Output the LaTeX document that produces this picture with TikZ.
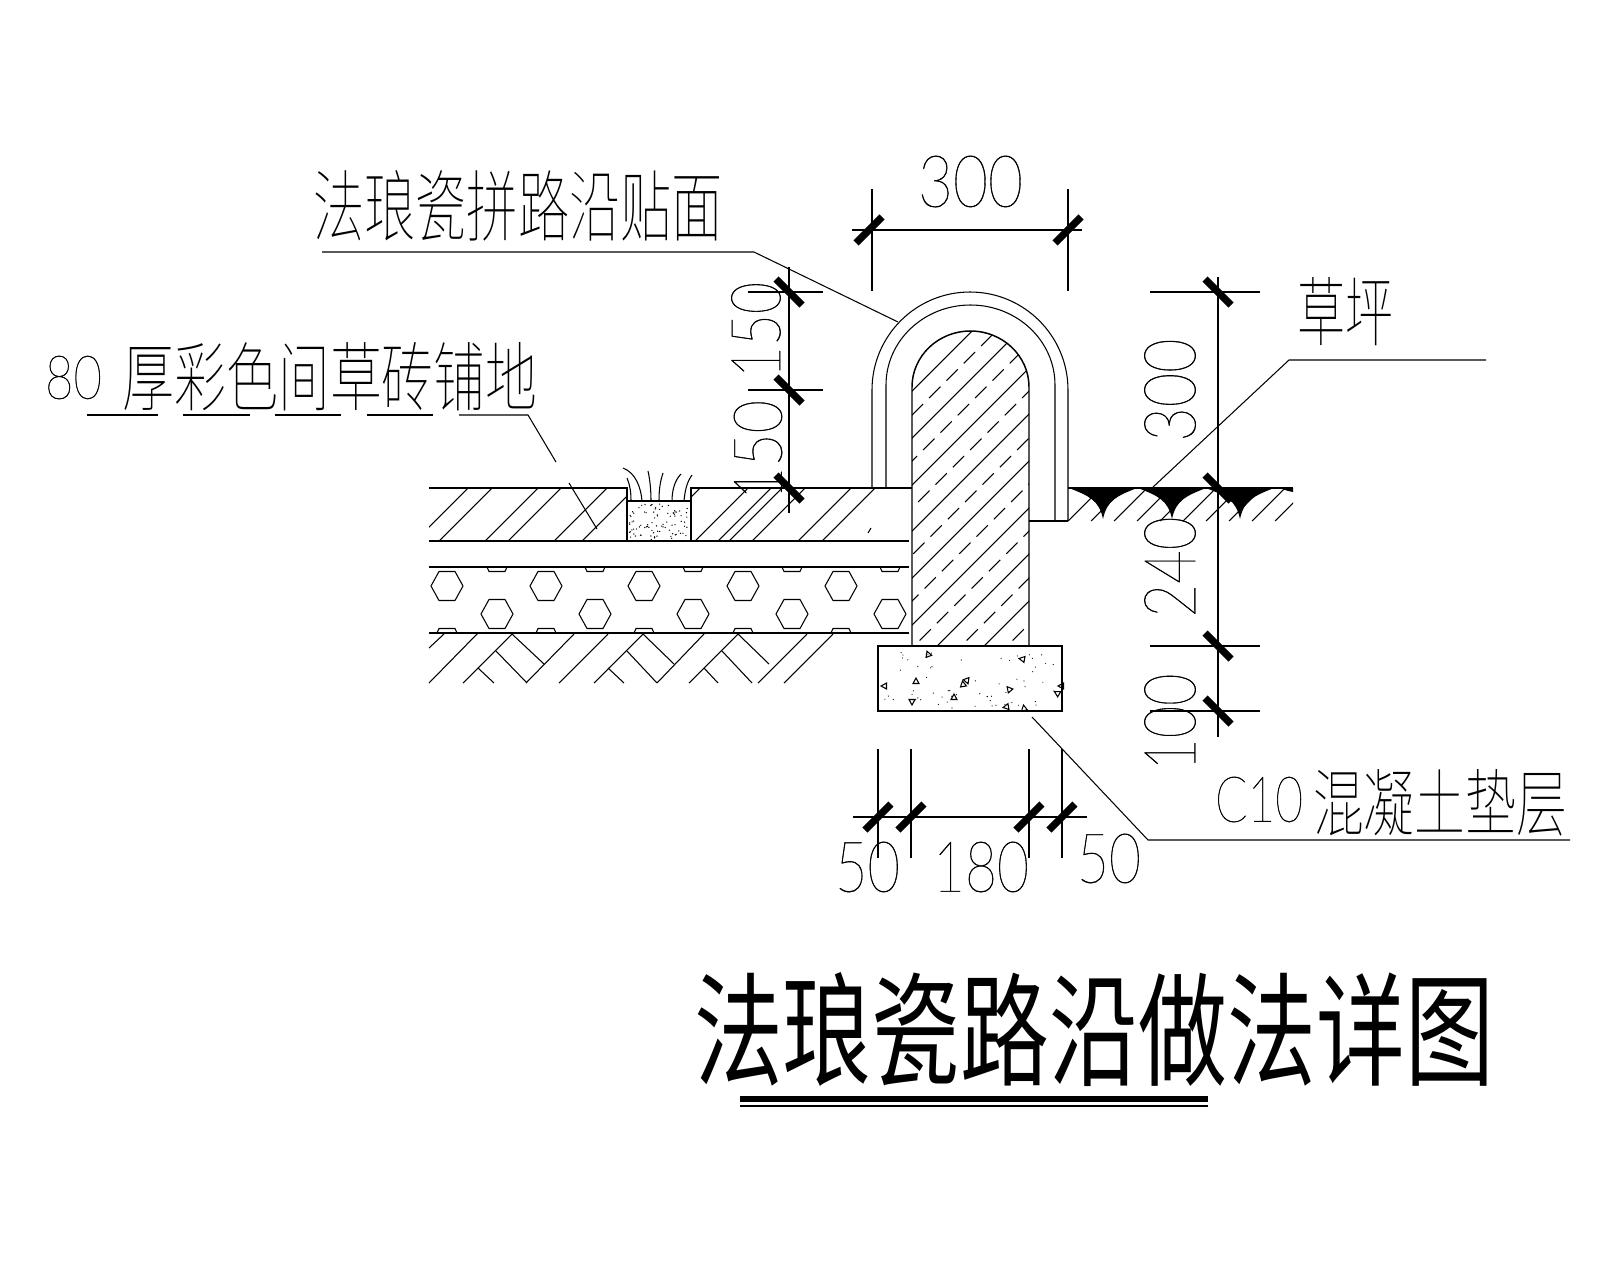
\documentclass[tikz,border=0pt]{standalone}
\usepackage{fontspec}
\usepackage{graphicx}
\usetikzlibrary{calc, positioning}
\newfontfamily\cadfont[FakeBold=.6]{Lato Hairline}
\newfontfamily\cjkthin{Noto Sans CJK SC Thin}
\newfontfamily\cjkbold{Noto Sans CJK SC}
\newcommand{\fitbox}[3]{\resizebox{#1mm}{#2mm}{#3}}
\tikzset{
    lbl/.style={inner sep=0pt,outer sep=0pt},
    edge/.style={line width=.42pt},
    hair/.style={line width=.3pt},
    tick/.style={line width=2.1pt},
    dashhatch/.style={line width=.3pt,dash pattern=on 1.6mm off .85mm}
}

\begin{document}
\begin{tikzpicture}[x=.1mm,y=-.1mm]
            \useasboundingbox (0,0) rectangle (1600,1280);
            % paving, base and gravel lines
            \draw[edge] (429,488) -- (627,488) -- (627,541);
            \draw[edge] (691,541) -- (691,488) -- (912,488);
            \draw[edge] (627,501) -- (691,501);
            \draw[edge] (429,541) -- (909,541);
            \draw[edge] (429,567) -- (909,567);
            \draw[edge] (429,633) -- (909,633);
            % paving hatch
            \begin{scope}
                \clip (429,488) rectangle (627,541);
                \foreach \hx in {468,492,538,561,607,635}
                    \draw[hair] (\hx,488) -- (\hx-53,541);
            \end{scope}
            \begin{scope}
                \clip (691,488) rectangle (912,541);
                \foreach \hx in {700,748,771,782,805,851,875}
                    \draw[hair] (\hx,488) -- (\hx-53,541);
            \end{scope}
            \draw[hair] (868,533) -- (871,528);
            % sand in the grass joint
            \pgfmathsetseed{41}
            \foreach \i in {1,...,90}
                \fill ({629+60*rnd},{503+37*rnd}) circle (.7);
            \draw[hair] (623,468) .. controls (636,473) and (641,488) .. (642,501);
            \draw[hair] (627,478) .. controls (630,485) and (631,492) .. (631,501);
            \draw[hair] (648,471) .. controls (650,480) and (651,490) .. (651,501);
            \draw[hair] (663,473) .. controls (660,482) and (659,490) .. (659,501);
            \draw[hair] (681,474) .. controls (675,480) and (672,490) .. (672,501);
            \draw[hair] (692,475) .. controls (687,482) and (685,490) .. (684,501);
            % gravel
            \foreach \gx in {447,546,644,743,841} {
                \draw[hair] (\gx-16,586) -- (\gx-8,571.5) -- (\gx+8,571.5) -- (\gx+16,586) -- (\gx+8,600.5) -- (\gx-8,600.5) -- cycle;
                \draw[hair] (\gx-10,633) -- (\gx-8,628.5) -- (\gx+8,628.5) -- (\gx+10,633);
            }
            \foreach \gx in {497,595,693,792,890} {
                \draw[hair] (\gx-16,614) -- (\gx-8,599.5) -- (\gx+8,599.5) -- (\gx+16,614) -- (\gx+8,628.5) -- (\gx-8,628.5) -- cycle;
                \draw[hair] (\gx-10,567) -- (\gx-8,571.5) -- (\gx+8,571.5) -- (\gx+10,567);
            }
            % soil
            \foreach \sa/\sb/\sc/\sd in {429/683/478/633,429/648/444/634,463/683/512/634,526/683/574/634,
                512/634/544/664,496/651/527/683,478/668/494/683,559/683/608/634,594/683/643/634,
                643/634/674/664,627/651/657/683,608/668/624/683,657/683/704/634,689/683/738/634,
                738/634/769/664,722/651/752/683,704/668/718/683,758/683/807/634,784/683/833/634}
                \draw[hair] (\sa,\sb) -- (\sc,\sd);
            % post
            \begin{scope}
                \clip (912,646) -- (912,387) arc[start angle=180,end angle=360,x radius=58.5,y radius=56] -- (1029,646) -- cycle;
                \foreach \c in {1303,1350,1397,1443,1490,1537,1583,1630,1677}
                    \draw[hair] (\c-300,300) -- (\c-700,700);
                \foreach \c in {1327,1373,1420,1467,1513,1560,1607,1653}
                    \draw[dashhatch] (\c-300,300) -- (\c-700,700);
            \end{scope}
            \draw[edge] (912,646) -- (912,387) arc[start angle=180,end angle=360,x radius=58.5,y radius=56] -- (1029,646);
            % facing
            \draw[hair] (886,488) -- (886,385) arc[start angle=180,end angle=360,x radius=84.5,y radius=80] -- (1055,521);
            \draw[hair] (872,488) -- (872,390) arc[start angle=180,end angle=360,x radius=98,y radius=98] -- (1068,521);
            \draw[edge] (1029,521) -- (1068,521);
            % lawn
            \draw[edge] (1068,488) -- (1293,488);
            \begin{scope}
                \clip (1068,488) rectangle (1293,521);
                \foreach \hx in {1068,1091,1114,1137,1160,1183,1206,1229,1252,1275}
                    \draw[hair] (\hx,521) -- (\hx+33,488);
            \end{scope}
            \foreach \lx in {1103,1172,1240}
                \fill (\lx-34,488) .. controls (\lx-14,496) and (\lx-4,500) .. (\lx,519) .. controls (\lx+4,500) and (\lx+14,496) .. (\lx+34,488) -- cycle;
            \fill (1279,488) -- (1293,488) -- (1293,492) .. controls (1288,491) .. (1279,488);
            % footing
            \draw[edge] (878,646) rectangle (1062,711);
            \pgfmathsetseed{17}
            \foreach \i in {1,...,60}
                \fill ({882+176*rnd},{650+58*rnd}) circle (.6);
            \foreach \tx/\ty/\tr in {928/654/20,1022/659/80,916/681/0,884/686/90,963/684/10,967/681/200,
                1009/689/40,954/697/0,912/702/180,1006/707/100,1024/708/10,1057/693/60,1061/686/90}
                \draw[hair,shift={(\tx,\ty)},rotate=\tr] (-3,2.5) -- (3,2.5) -- (0,-3) -- cycle;
            % dimensions
            \draw[edge] (852,230) -- (1082,230);
            \draw[edge] (872,189) -- (872,291);
            \draw[edge] (1068,189) -- (1068,291);
            \foreach \dx in {869,1068}
                \draw[tick] (\dx-13,243) -- (\dx+13,217);
            \draw[edge] (789,267) -- (789,513);
            \foreach \dy in {292,390,488} {
                \draw[edge] (748,\dy) -- (823,\dy);
                \draw[tick] (776,\dy-13) -- (802,\dy+13);
            }
            \draw[edge] (1218,277) -- (1218,737);
            \foreach \dy in {292,488,646,711} {
                \draw[edge] (1150,\dy) -- (1260,\dy);
                \draw[tick] (1205,\dy-13) -- (1231,\dy+13);
            }
            \draw[edge] (853,817) -- (1087,817);
            \foreach \dx in {878,911,1029,1062} {
                \draw[edge] (\dx,749) -- (\dx,858);
                \draw[tick] (\dx-13,830) -- (\dx+13,804);
            }
            % leaders
            \draw[hair] (322,252) -- (754,252) -- (898,322);
            \draw[hair] (87,415) -- (158,415);
            \draw[hair] (183,415) -- (250,415);
            \draw[hair] (275,415) -- (341,415);
            \draw[hair] (367,415) -- (433,415);
            \draw[hair] (459,415) -- (528,415) -- (556,462);
            \draw[hair] (569,483) -- (597,529);
            \draw[hair] (1486,360) -- (1289,360) -- (1152,488);
            \draw[hair] (1570,840) -- (1148,840) -- (1032,717);
            % title rule
            \draw[line width=1.6pt] (740,1099) -- (1208,1099);
            \draw[edge] (740,1106) -- (1208,1106);
            % labels
            \node[lbl] (facing) at (518,205.5) {\fitbox{41}{6.5}{\cjkthin 法琅瓷拼路沿贴面}};
            \node[lbl] (eighty) at (73.5,377.5) {\fitbox{5.7}{4.3}{\cadfont 80}};
            \node[lbl] (paving) at (330,376.5) {\fitbox{41.5}{6.3}{\cjkthin 厚彩色间草砖铺地}};
            \node[lbl] (lawn) at (1345,311.5) {\fitbox{9.6}{6.3}{\cjkthin 草坪}};
            \node[lbl] (cten) at (1259,799.5) {\fitbox{8.8}{4.5}{\cadfont C10}};
            \node[lbl] (bedding) at (1440,802.5) {\fitbox{25.4}{6.1}{\cjkthin 混凝土垫层}};
            \node[lbl] (topw) at (970.5,181.5) {\fitbox{10.5}{5.1}{\cadfont 300}};
            \node[lbl,rotate=90] (upa) at (756,330) {\fitbox{9.6}{4.9}{\cadfont 150}};
            \node[lbl,rotate=90] (upb) at (758,450) {\fitbox{10}{4.8}{\cadfont 150}};
            \node[lbl,rotate=90] (rha) at (1170,390) {\fitbox{10.3}{5.1}{\cadfont 300}};
            \node[lbl,rotate=90] (rhb) at (1170,567) {\fitbox{10.1}{5.1}{\cadfont 240}};
            \node[lbl,rotate=90] (rhc) at (1170,722) {\fitbox{9.7}{5.1}{\cadfont 100}};
            \node[lbl] (bwa) at (867.5,867) {\fitbox{6.5}{5}{\cadfont 50}};
            \node[lbl] (bwb) at (981,867) {\fitbox{9.6}{5}{\cadfont 180}};
            \node[lbl] (bwc) at (1109,858.5) {\fitbox{6.4}{4.9}{\cadfont 50}};
            \node[lbl] (title) at (1094,1030) {\fitbox{80}{10.4}{\cjkbold 法琅瓷路沿做法详图}};
        \end{tikzpicture}
\end{document}
